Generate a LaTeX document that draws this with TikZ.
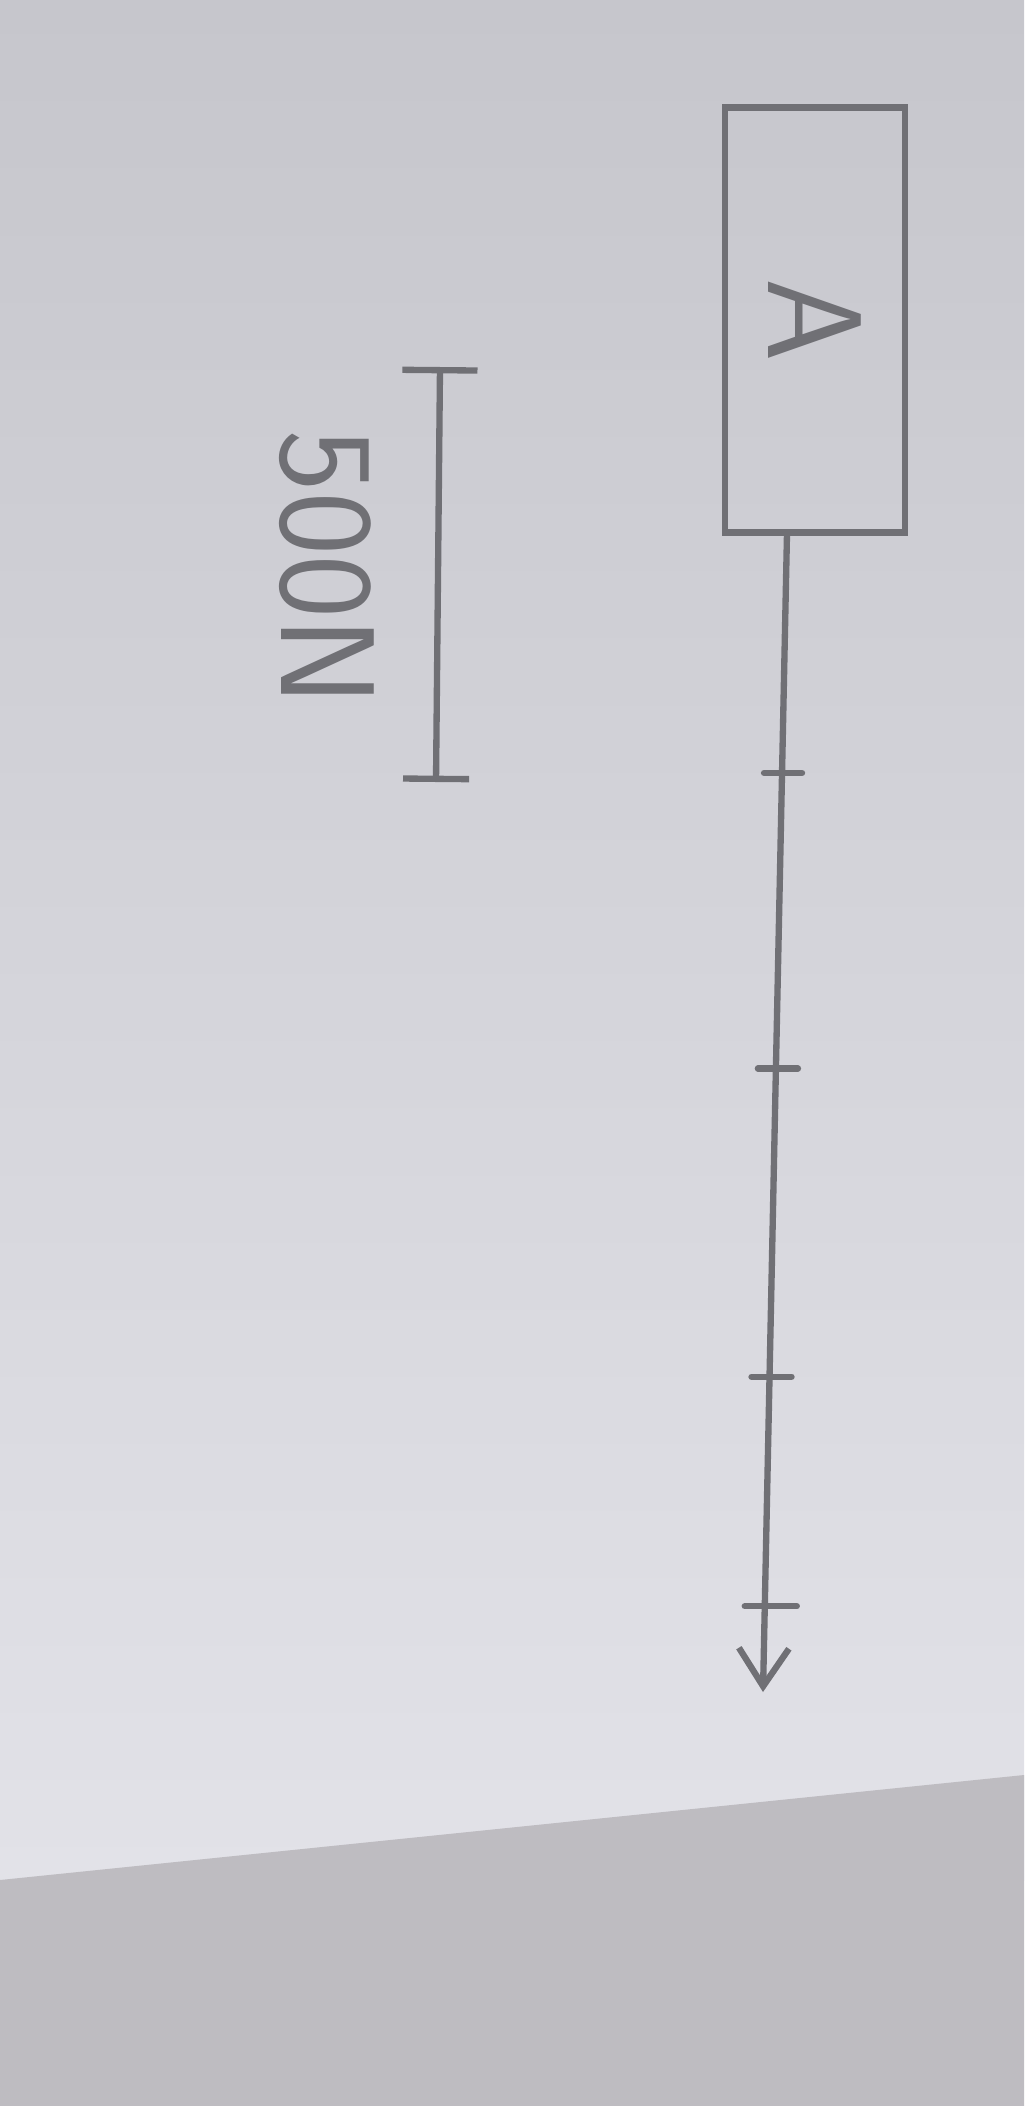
\documentclass[tikz,border=0pt]{standalone}
\usetikzlibrary{arrows.meta,positioning}
\definecolor{paper}{RGB}{198,198,204}
\definecolor{paperlight}{RGB}{226,226,232}
\definecolor{tabletop}{RGB}{190,188,193}
\definecolor{pencil}{RGB}{112,112,117}

\begin{document}
\begin{tikzpicture}[x=0.01cm,y=-0.01cm,
        line/.style = {draw=pencil, line width=1.8pt, line cap=round},
        block/.style = {line, rectangle, minimum width=1.8cm, minimum height=4.25cm, inner sep=0pt},
        label/.style = {text=pencil, font=\fontsize{38}{42}\selectfont\sffamily, rotate=-90}]
    % background: photo of the sheet
    \useasboundingbox (0,0) rectangle (1024,2106);
    \shade[top color=paper, bottom color=paperlight] (0,0) rectangle (1024,1880);
    \fill[tabletop] (0,1880) -- (1024,1775) -- (1024,2106) -- (0,2106) -- cycle;

    % the block
    \node[block] (BlockA) at (815,320) {};
    \node[label] (LabelA) at (BlockA.center) {A};

    % force arrow with its ticks
    \coordinate (ArrowStart) at (787,533);
    \coordinate (ArrowTip) at (763,1692);
    \draw[line, -{Straight Barb[length=0.38cm, width=0.5cm]}] (ArrowStart) --
        coordinate[pos=0.207] (TickOne)
        coordinate[pos=0.462] (TickTwo)
        coordinate[pos=0.728] (TickThree)
        coordinate[pos=0.926] (TickFour) (ArrowTip);
    \draw[line] ([xshift=-0.18cm]TickOne) -- ([xshift=0.2cm]TickOne);
    \draw[line] ([xshift=-0.18cm]TickTwo) -- ([xshift=0.22cm]TickTwo);
    \draw[line] ([xshift=-0.18cm]TickThree) -- ([xshift=0.22cm]TickThree);
    \draw[line] ([xshift=-0.2cm]TickFour) -- ([xshift=0.32cm]TickFour);

    % scale bar
    \coordinate (ScaleTop) at (440,367);
    \coordinate (ScaleBottom) at (436,782);
    \draw[line, {Bar[width=0.75cm]}-{Bar[width=0.66cm]}] (ScaleTop) -- (ScaleBottom);
    \node[label] (ScaleText) at (327,568) {500N};
\end{tikzpicture}
\end{document}
